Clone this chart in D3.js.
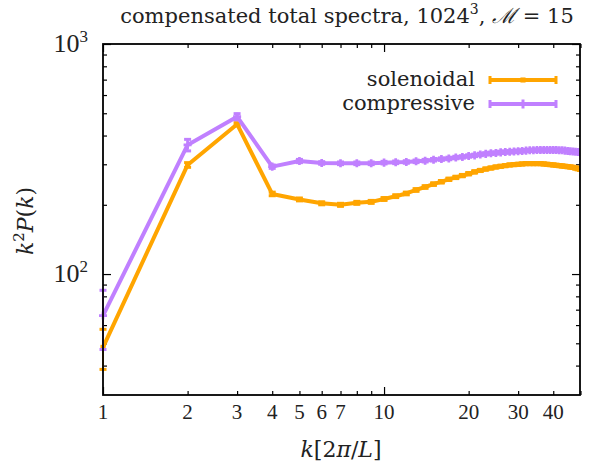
<!DOCTYPE html>
<html>
<head>
<meta charset="utf-8">
<script src="https://cdn.jsdelivr.net/npm/d3@7"></script>
<style>
  body { margin: 0; background: #fff; }
  text { font-family: "DejaVu Serif", serif; fill: #222; }
  text.num { font-family: "Liberation Serif", serif; }
</style>
</head>
<body>
<svg id="chart"></svg>
<script>

/////////////////////////////////
// DATA
//////////////////////////////////

var kValues = [1, 2, 3, 4, 5, 6, 7, 8, 9, 10,
    11, 12, 13, 14, 15, 16, 17, 18, 19, 20,
    21, 22, 23, 24, 25, 26, 27, 28, 29, 30,
    31, 32, 33, 34, 35, 36, 37, 38, 39, 40,
    41, 42, 43, 44, 45, 46, 47, 48, 49, 50];

var solenoidal = [48, 298, 448, 223, 211, 203, 200, 204, 206, 212,
    218, 224, 232, 239, 246, 252, 258, 263, 268, 273,
    278, 282, 286, 289, 292, 294, 296, 298, 299, 300,
    301, 302, 302, 302, 302, 302, 301, 300, 299, 298,
    297, 296, 295, 294, 293, 292, 291, 289, 287, 285];

var solenoidalErr = [9.5, 7, 7, 4, 3, 3, 3, 3, 3, 3,
    3, 3, 3, 3, 3, 3, 3, 3, 3, 3,
    3, 3, 3, 3, 3, 3, 3, 3, 3, 3,
    3, 3, 3, 3, 3, 3, 3, 3, 3, 3,
    3, 3, 3, 3, 3, 3, 3, 3, 3, 3];

var compressive = [66, 364, 483, 293, 310, 304, 303, 303, 303, 305,
    306, 307, 309, 311, 314, 316, 318, 321, 323, 326,
    328, 331, 333, 335, 336, 338, 339, 340, 341, 342,
    343, 344, 345, 345, 346, 346, 346, 346, 346, 346,
    346, 345, 345, 344, 343, 342, 341, 340, 339, 337];

var compressiveErr = [19, 21, 15, 5, 5, 4, 4, 4, 4, 4,
    4, 4, 4, 4, 4, 4, 4, 4, 4, 4,
    4, 4, 4, 4, 4, 4, 4, 4, 4, 4,
    4, 4, 4, 4, 4, 4, 4, 4, 4, 4,
    4, 4, 4, 4, 4, 4, 4, 4, 4, 4];

var seriesNames = ["solenoidal", "compressive"];
var seriesColors = ["#ffa500", "#c080ff"];

var xTickLabels = [1, 2, 3, 4, 5, 6, 7, 10, 20, 30, 40];
var xMinorTicks = [2, 3, 4, 5, 6, 7, 8, 9, 20, 30, 40, 50];
var xMajorTicks = [1, 10];
var yMajorTicks = [100, 1000];
var yMinorTicks = [40, 50, 60, 70, 80, 90, 200, 300, 400, 500, 600, 700, 800, 900];


/////////////////////////////////
// SET STATIC VARIABLES
//////////////////////////////////

var width = 599;
var height = 470;
var margin = { top: 44, right: 19, bottom: 75, left: 103 };
var chartWidth = width - margin.left - margin.right;
var chartHeight = height - margin.top - margin.bottom;

var svg = d3.select("#chart")
    .attr("width", width)
    .attr("height", height);

var x = d3.scaleLog().domain([1, 49.8]).range([0, chartWidth]);
var y = d3.scaleLog().domain([29.8, 1000]).range([chartHeight, 0]);

var g = svg.append("g")
    .attr("transform", "translate(" + margin.left + "," + margin.top + ")");

g.append("clipPath").attr("id", "clip")
    .append("rect")
    .attr("x", -4).attr("y", 0)
    .attr("width", chartWidth + 4).attr("height", chartHeight);


/////////////////////////////////
// AXES + TICKS
//////////////////////////////////

function tickAxis(axisFn, scale, values, size) {
    return axisFn(scale).tickValues(values).tickSize(size).tickFormat("");
}

// inward ticks, all four sides
var axes = g.append("g").attr("class", "ticks");
axes.append("g").attr("transform", "translate(0," + chartHeight + ")")
    .call(tickAxis(d3.axisTop, x, xMajorTicks, 8));
axes.append("g").attr("transform", "translate(0," + chartHeight + ")")
    .call(tickAxis(d3.axisTop, x, xMinorTicks, 4));
axes.append("g")
    .call(tickAxis(d3.axisBottom, x, xMajorTicks, 8));
axes.append("g")
    .call(tickAxis(d3.axisBottom, x, xMinorTicks, 4));
axes.append("g")
    .call(tickAxis(d3.axisRight, y, yMajorTicks, 8));
axes.append("g")
    .call(tickAxis(d3.axisRight, y, yMinorTicks, 4));
axes.append("g").attr("transform", "translate(" + chartWidth + ",0)")
    .call(tickAxis(d3.axisLeft, y, yMajorTicks, 8));
axes.append("g").attr("transform", "translate(" + chartWidth + ",0)")
    .call(tickAxis(d3.axisLeft, y, yMinorTicks, 4));

axes.selectAll(".domain").remove();
axes.selectAll(".tick line").attr("stroke", "#000").attr("stroke-width", 1.2);

// tick labels
g.selectAll(".xlabel")
    .data(xTickLabels)
    .enter().append("text")
    .attr("class", "xlabel num")
    .attr("x", function(d) { return x(d); })
    .attr("y", chartHeight + 24)
    .attr("text-anchor", "middle")
    .attr("font-size", 21)
    .text(function(d) { return d; });

var ylab = g.selectAll(".ylabel")
    .data(yMajorTicks)
    .enter().append("text")
    .attr("class", "ylabel num")
    .attr("x", -15)
    .attr("y", function(d) { return y(d) + 8; })
    .attr("text-anchor", "end")
    .attr("font-size", 26);
ylab.append("tspan").text("10");
ylab.append("tspan")
    .attr("dy", -10).attr("font-size", 17)
    .text(function(d) { return Math.round(Math.log10(d)); });


/////////////////////////////////
// DRAW SERIES
//////////////////////////////////

var plot = g.append("g").attr("clip-path", "url(#clip)");
var allValues = [solenoidal, compressive];
var allErrors = [solenoidalErr, compressiveErr];

var line = d3.line()
    .x(function(d) { return x(d.k); })
    .y(function(d) { return y(d.v); });

allValues.forEach(function(vals, i) {
    var pts = kValues.map(function(k, j) {
        return { k: k, v: vals[j], e: allErrors[i][j] };
    });
    var color = seriesColors[i];

    plot.append("path")
        .datum(pts)
        .attr("fill", "none")
        .attr("stroke", color)
        .attr("stroke-width", 4)
        .attr("stroke-linejoin", "round")
        .attr("d", line);

    var bars = plot.append("g").selectAll("g")
        .data(pts)
        .enter().append("g");

    bars.append("line")
        .attr("x1", function(d) { return x(d.k); })
        .attr("x2", function(d) { return x(d.k); })
        .attr("y1", function(d) { return y(d.v - d.e); })
        .attr("y2", function(d) { return y(d.v + d.e); })
        .attr("stroke", color).attr("stroke-width", 2);

    [-1, 1].forEach(function(s) {
        bars.append("line")
            .attr("x1", function(d) { return x(d.k) - 3.5; })
            .attr("x2", function(d) { return x(d.k) + 3.5; })
            .attr("y1", function(d) { return y(d.v + s * d.e); })
            .attr("y2", function(d) { return y(d.v + s * d.e); })
            .attr("stroke", color).attr("stroke-width", 3);
    });

    bars.append("path")
        .attr("transform", function(d) { return "translate(" + x(d.k) + "," + y(d.v) + ")"; })
        .attr("d", d3.symbol().type(i == 0 ? d3.symbolSquare : d3.symbolCross).size(i == 0 ? 26 : 36))
        .attr("fill", color);
});

// frame on top
g.append("rect")
    .attr("width", chartWidth)
    .attr("height", chartHeight)
    .attr("fill", "none")
    .attr("stroke", "#000")
    .attr("stroke-width", 1.8);


/////////////////////////////////
// LEGEND
//////////////////////////////////

var legend = svg.append("g");
var legendY = [80, 104];

seriesNames.forEach(function(name, i) {
    var color = seriesColors[i];
    var ly = legendY[i];
    legend.append("text")
        .attr("x", 475).attr("y", ly + 6)
        .attr("text-anchor", "end")
        .attr("font-size", 21)
        .text(name);
    legend.append("line")
        .attr("x1", 490).attr("x2", 556)
        .attr("y1", ly).attr("y2", ly)
        .attr("stroke", color).attr("stroke-width", 4);
    [490, 556].forEach(function(lx) {
        legend.append("line")
            .attr("x1", lx).attr("x2", lx)
            .attr("y1", ly - 4).attr("y2", ly + 4)
            .attr("stroke", color).attr("stroke-width", 3);
    });
    legend.append("path")
        .attr("transform", "translate(523," + ly + ")")
        .attr("d", d3.symbol().type(i == 0 ? d3.symbolSquare : d3.symbolCross).size(i == 0 ? 26 : 44))
        .attr("fill", color);
});


/////////////////////////////////
// TITLES
//////////////////////////////////

var title = svg.append("text")
    .attr("x", 347).attr("y", 23)
    .attr("text-anchor", "middle")
    .attr("font-size", 21);
title.append("tspan").text("compensated total spectra, 1024");
title.append("tspan").attr("dy", -9).attr("font-size", 14).text("3");
title.append("tspan").attr("dy", 9).text(", ");
title.append("tspan").attr("font-style", "italic").text("\u2133");
title.append("tspan").text(" = 15");

var xTitle = svg.append("text")
    .attr("x", 341).attr("y", 457)
    .attr("text-anchor", "middle")
    .attr("font-size", 22);
xTitle.append("tspan").attr("font-style", "italic").text("k");
xTitle.append("tspan").text("[2");
xTitle.append("tspan").attr("font-style", "italic").text("\u03c0");
xTitle.append("tspan").text("/");
xTitle.append("tspan").attr("font-style", "italic").text("L");
xTitle.append("tspan").text("]");

var yTitle = svg.append("text")
    .attr("transform", "translate(33,221) rotate(-90)")
    .attr("text-anchor", "middle")
    .attr("font-size", 22);
yTitle.append("tspan").attr("font-style", "italic").text("k");
yTitle.append("tspan").attr("dy", -9).attr("font-size", 15).text("2");
yTitle.append("tspan").attr("dy", 9).attr("font-style", "italic").text("P");
yTitle.append("tspan").text("(");
yTitle.append("tspan").attr("font-style", "italic").text("k");
yTitle.append("tspan").text(")");

</script>
</body>
</html>
